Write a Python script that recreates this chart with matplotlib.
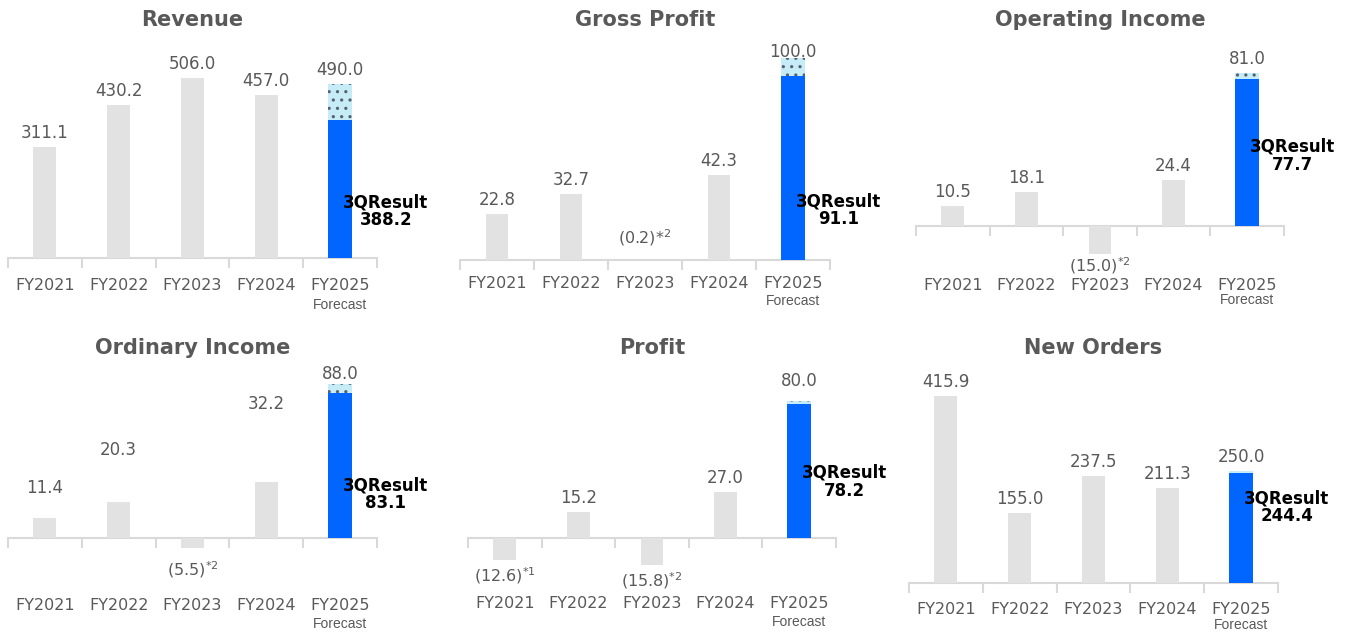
# Six KPI panels, FY2021-FY2025 (forecast with 3Q result)
import matplotlib
matplotlib.use('Agg')
import matplotlib.pyplot as plt
from matplotlib.transforms import blended_transform_factory

years = ['FY2021', 'FY2022', 'FY2023', 'FY2024', 'FY2025']
titles = ['Revenue', 'Gross Profit', 'Operating Income',
          'Ordinary Income', 'Profit', 'New Orders']

revenue = [311.1, 430.2, 506.0, 457.0, 490.0]
gross_profit = [22.8, 32.7, -0.2, 42.3, 100.0]
operating_income = [10.5, 18.1, -15.0, 24.4, 81.0]
ordinary_income = [11.4, 20.3, -5.5, 32.2, 88.0]
profit = [-12.6, 15.2, -15.8, 27.0, 80.0]
new_orders = [415.9, 155.0, 237.5, 211.3, 250.0]
q3_result = [388.2, 91.1, 77.7, 83.1, 78.2, 244.4]

# footnote marks on negative values
notes = {(1, 2): '*$^{2}$', (2, 2): '$^{*2}$', (3, 2): '$^{*2}$',
         (4, 0): '$^{*1}$', (4, 2): '$^{*2}$'}

series = [revenue, gross_profit, operating_income,
          ordinary_income, profit, new_orders]

# layout in pixels: left, right, baseline, px per unit, label row, top, bottom
layout = [
    (8, 377, 258, 0.356, 285, 45, 320),
    (460, 830, 260, 2.02, 284, 45, 320),
    (916, 1284, 226, 1.89, 285, 45, 320),
    (8, 377, 538, 1.75, 605, 365, 630),
    (468, 836, 538, 1.71, 604, 365, 630),
    (909, 1278, 583, 0.45, 609, 365, 630),
]
forecast_gap = [20, 17, 15, 19, 18, 16]
title_y = [20, 20, 20, 348, 348, 348]
# where the 3QResult text sits, as share of the blue bar height
result_pos = [0.34, 0.27, 0.48, 0.30, 0.42, 0.69]
# value label offsets (px) that differ from the default
label_off = {(1, 2): -23, (3, 0): 30, (3, 1): 52, (3, 3): 78, (2, 2): 11,
             (1, 4): 6, (4, 4): 20, (3, 4): 10, (3, 2): 22}

W, H = 1360, 633
fig = plt.figure(figsize=(W / 100, H / 100), dpi=100)

grey_txt = '#595959'
bar_grey = '#e2e2e2'
blue = '#0066ff'
axis_col = '#d9d9d9'

for k, vals in enumerate(series):
    left, right, base, scale, lab_y, top, bot = layout[k]
    ax = fig.add_axes([left / W, 1 - bot / H, (right - left) / W, (bot - top) / H])
    ax.set_xlim(-0.5, 4.5)
    ax.set_ylim(-(bot - base) / scale, (base - top) / scale)

    ax.bar(range(4), vals[:4], width=0.31, color=bar_grey, zorder=2)
    ax.bar(4, q3_result[k], width=0.33, color=blue, zorder=2)
    with plt.rc_context({'hatch.color': '#55626e', 'hatch.linewidth': 1.1}):
        ax.bar(4, vals[4] - q3_result[k], bottom=q3_result[k], width=0.33,
               color='#c6ecf8', hatch='..', linewidth=0, zorder=2)

    # value labels
    for i, v in enumerate(vals):
        off = label_off.get((k, i), 16 if v < 0 else 14)
        if v < 0:
            s = '(%.1f)' % abs(v) + notes.get((k, i), '')
            ax.annotate(s, (i, v), xytext=(0, -off * 0.72), textcoords='offset points',
                        ha='center', va='center', fontsize=11.5, color=grey_txt)
        else:
            ax.annotate('%.1f' % v, (i, v), xytext=(0, off * 0.72),
                        textcoords='offset points', ha='center', va='center',
                        fontsize=12, color=grey_txt)

    ax.text(4.62, q3_result[k] * result_pos[k], '3QResult\n%.1f' % q3_result[k],
            ha='center', va='center', fontsize=12, fontweight='bold',
            color='black', linespacing=1.0, zorder=3)

    # axis line at zero with boundary ticks
    for s in ['top', 'left', 'right']:
        ax.spines[s].set_visible(False)
    ax.spines['bottom'].set_position(('data', 0))
    ax.spines['bottom'].set_color(axis_col)
    ax.spines['bottom'].set_linewidth(1.5)
    ax.spines['bottom'].set_zorder(1)
    ax.set_xticks([-0.5, 0.5, 1.5, 2.5, 3.5, 4.5])
    ax.tick_params(axis='x', direction='out', length=7, width=1.5,
                   color=axis_col, labelbottom=False)
    ax.set_yticks([])
    ax.patch.set_visible(False)

    tr = blended_transform_factory(ax.transData, fig.transFigure)
    for i, y in enumerate(years):
        ax.text(i, 1 - lab_y / H, y, transform=tr, ha='center', va='center',
                fontsize=11.5, color=grey_txt)
    ax.text(4, 1 - (lab_y + forecast_gap[k]) / H, 'Forecast', transform=tr,
            ha='center', va='center', fontsize=10, color=grey_txt,
            family='Liberation Sans')

    fig.text((left + right) / 2 / W, 1 - title_y[k] / H, titles[k],
             ha='center', va='center', fontsize=15, fontweight='bold',
             color=grey_txt)

fig.savefig('out.png', dpi=100)
